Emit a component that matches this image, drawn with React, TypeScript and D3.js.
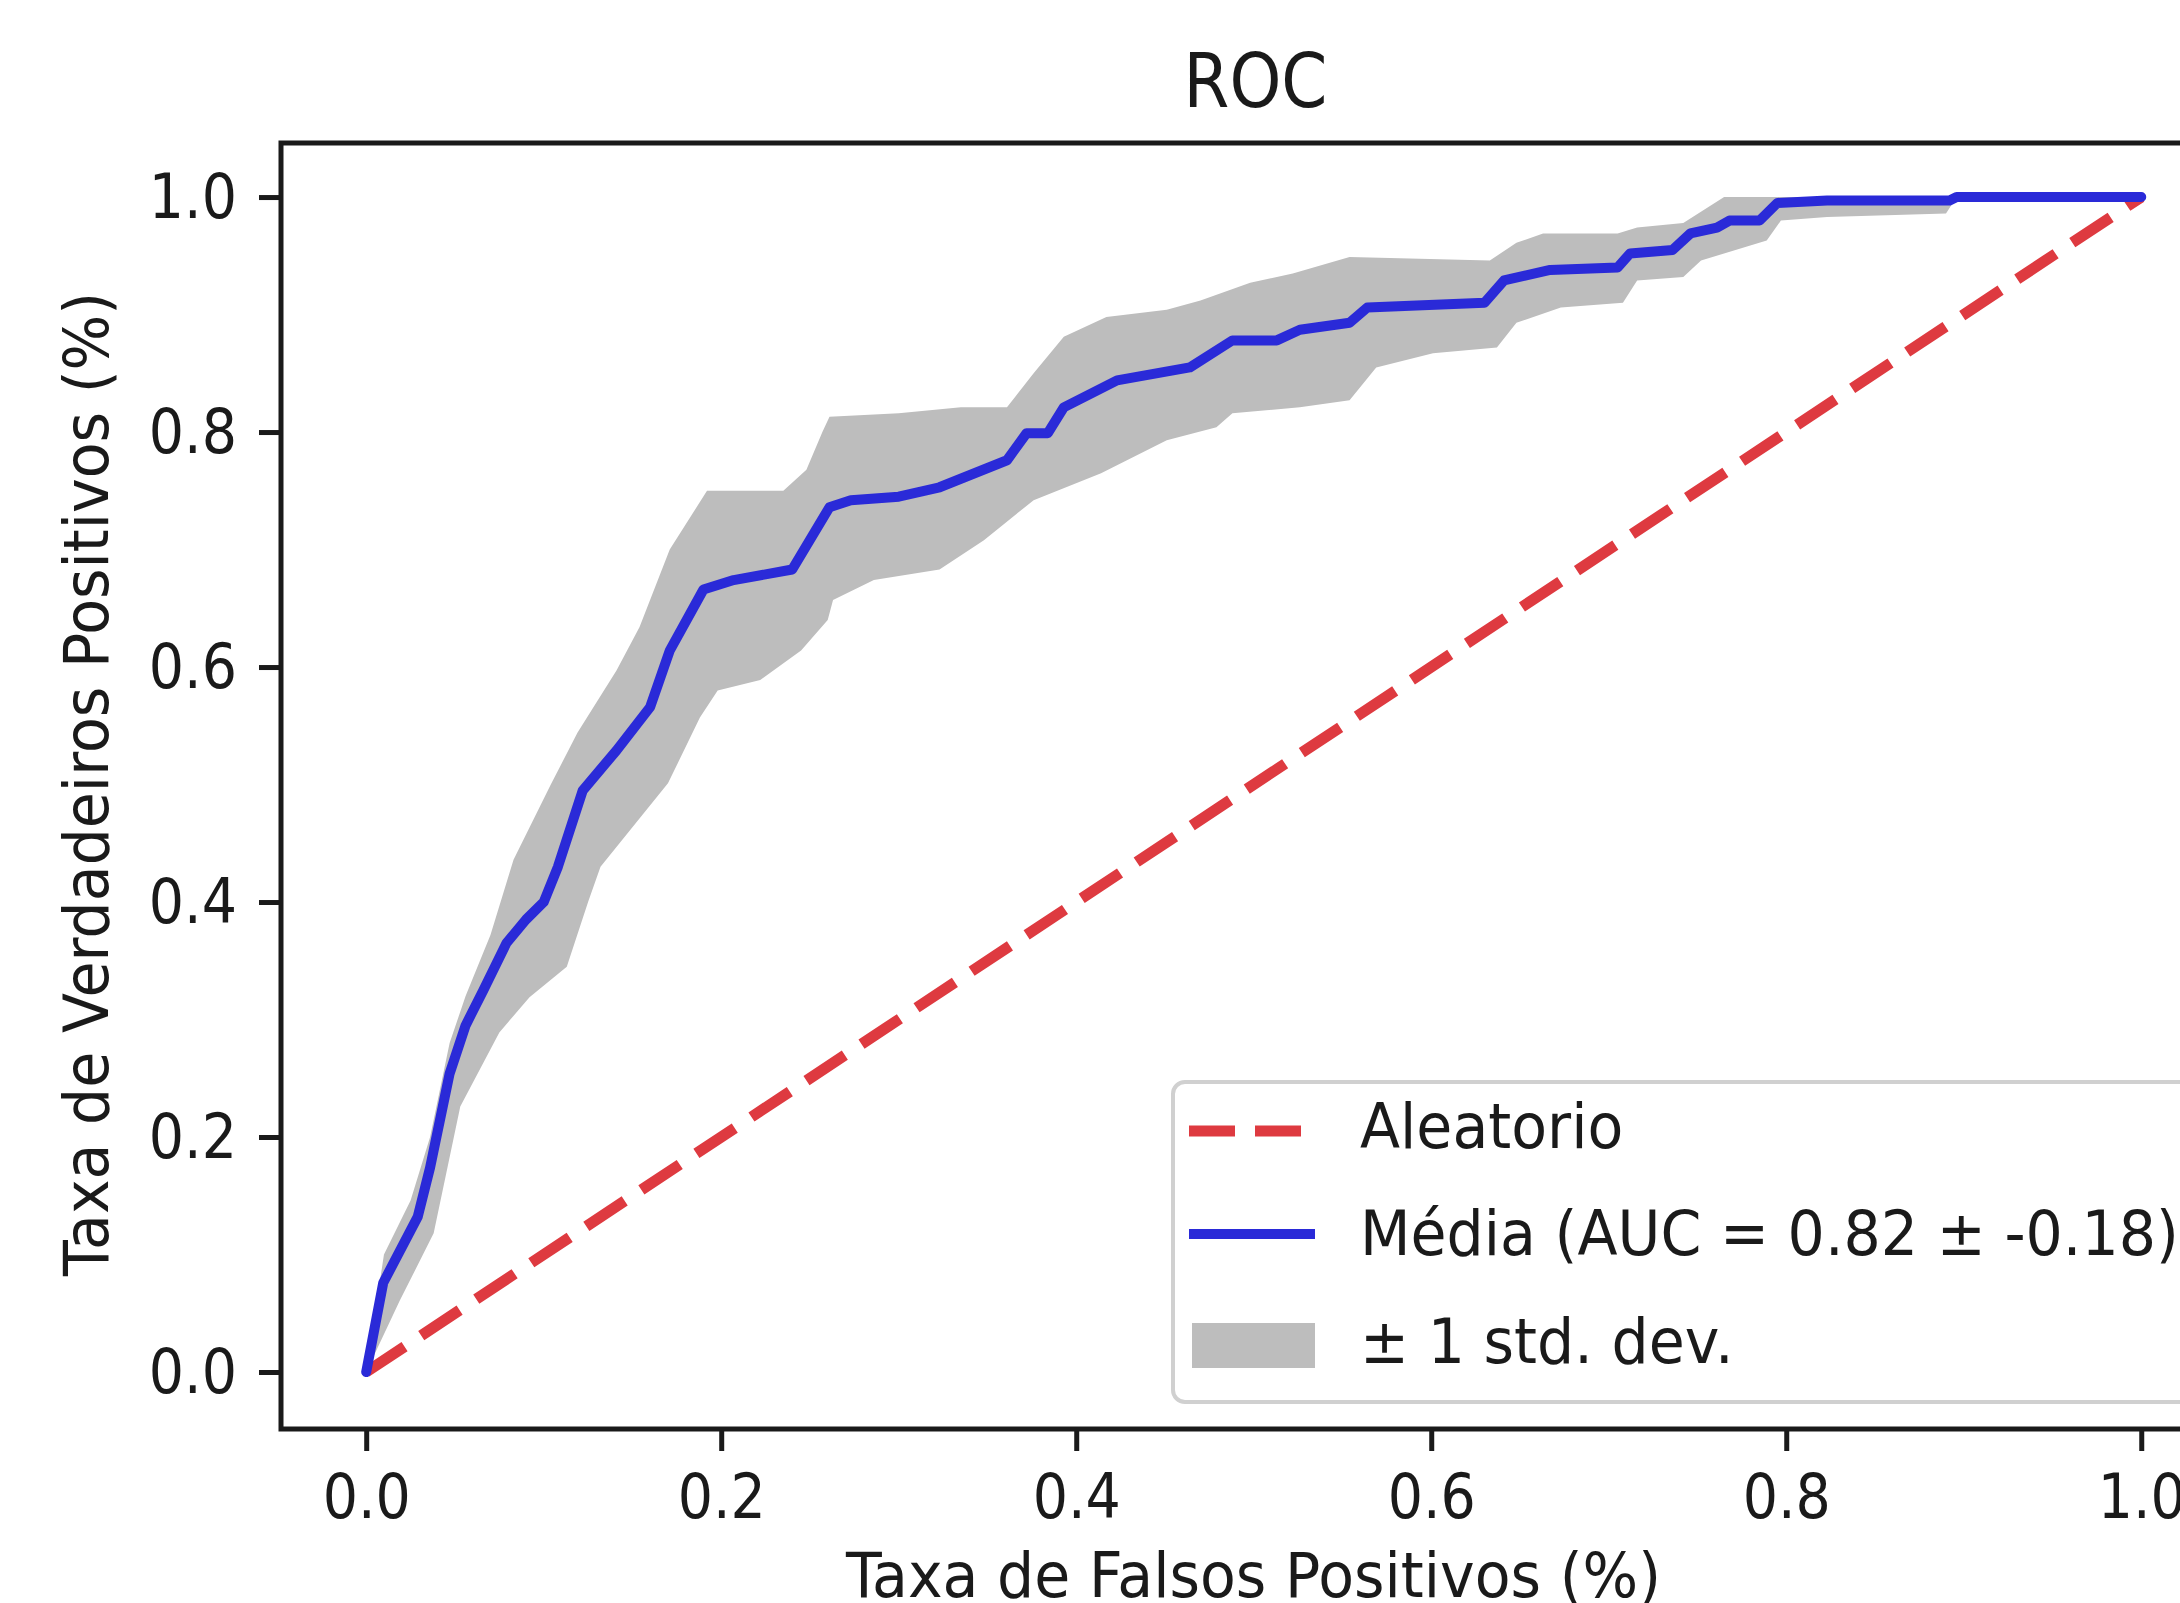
import * as d3 from "d3";
import { useEffect, useRef } from "react";

// mean ROC curve
const fprMean = [0, 0.0096, 0.029, 0.036, 0.047, 0.056, 0.066, 0.079, 0.09, 0.1, 0.108, 0.122, 0.141, 0.16, 0.171, 0.19, 0.207, 0.24, 0.261, 0.273, 0.3, 0.323, 0.361, 0.372, 0.384, 0.393, 0.423, 0.464, 0.488, 0.513, 0.526, 0.554, 0.564, 0.63, 0.641, 0.667, 0.705, 0.712, 0.736, 0.746, 0.761, 0.768, 0.785, 0.795, 0.823, 0.892, 0.896, 1.0];
const tprMean = [0, 0.076, 0.132, 0.174, 0.254, 0.295, 0.325, 0.365, 0.385, 0.4, 0.43, 0.495, 0.529, 0.566, 0.614, 0.666, 0.674, 0.683, 0.736, 0.742, 0.745, 0.753, 0.776, 0.799, 0.799, 0.821, 0.844, 0.855, 0.878, 0.878, 0.887, 0.893, 0.906, 0.91, 0.929, 0.938, 0.94, 0.952, 0.955, 0.969, 0.974, 0.98, 0.98, 0.995, 0.997, 0.997, 1.0, 1.0];

// +1 std edge
const fprUpper = [0, 0.01, 0.025, 0.036, 0.047, 0.056, 0.07, 0.083, 0.104, 0.119, 0.141, 0.154, 0.171, 0.192, 0.235, 0.248, 0.257, 0.261, 0.3, 0.335, 0.361, 0.376, 0.393, 0.417, 0.451, 0.47, 0.498, 0.522, 0.554, 0.633, 0.648, 0.663, 0.705, 0.716, 0.742, 0.765, 1.0];
const tprUpper = [0, 0.1, 0.146, 0.2, 0.28, 0.32, 0.372, 0.436, 0.5, 0.544, 0.597, 0.634, 0.7, 0.75, 0.75, 0.768, 0.8, 0.813, 0.816, 0.821, 0.821, 0.85, 0.881, 0.898, 0.904, 0.912, 0.927, 0.935, 0.949, 0.946, 0.961, 0.969, 0.969, 0.974, 0.978, 1.0, 1.0];

// -1 std edge
const fprLower = [0, 0.019, 0.038, 0.053, 0.075, 0.092, 0.113, 0.125, 0.132, 0.17, 0.188, 0.198, 0.222, 0.245, 0.26, 0.263, 0.286, 0.323, 0.348, 0.376, 0.414, 0.451, 0.479, 0.488, 0.526, 0.554, 0.569, 0.601, 0.637, 0.648, 0.673, 0.708, 0.716, 0.742, 0.752, 0.789, 0.797, 0.823, 0.89, 0.896, 1.0];
const tprLower = [0, 0.061, 0.118, 0.226, 0.289, 0.319, 0.345, 0.4, 0.43, 0.501, 0.557, 0.58, 0.589, 0.614, 0.64, 0.657, 0.674, 0.683, 0.708, 0.742, 0.765, 0.793, 0.804, 0.816, 0.821, 0.827, 0.855, 0.867, 0.872, 0.893, 0.906, 0.91, 0.929, 0.932, 0.946, 0.963, 0.98, 0.983, 0.986, 1.0, 1.0];

// chance diagonal
const fprChance = [0, 1];
const tprChance = [0, 1];

const xTicks = [0, 0.2, 0.4, 0.6, 0.8, 1.0];
const yTicks = [0, 0.2, 0.4, 0.6, 0.8, 1.0];

const legendLabels = ["Aleatorio", "Média (AUC = 0.82 ± -0.18)", "± 1 std. dev."];

function App() {
    const ref = useRef<SVGSVGElement>(null);

    useEffect(() => {
        const width = 2180,
            height = 1603;
        const font = "'DejaVu Sans', sans-serif";
        const fs = 63; // tick / label size
        const sx = 0.88; // tick glyphs in the picture are a bit narrow
        const sxLabel = 0.93; // axis labels and legend a little less so
        const ink = "#1a1a1a";

        const svg = d3.select(ref.current);
        svg.selectAll("*").remove();

        const left = 281,
            right = 2230,
            top = 143,
            bottom = 1429;

        const x = d3.scaleLinear().domain([-0.048, 1.05]).range([left, right]);
        const y = d3.scaleLinear().domain([-0.0485, 1.046]).range([bottom, top]);

        svg.append("rect").attr("width", width).attr("height", height).attr("fill", "white");

        // band: upper edge forward, lower edge back
        const bandPts: [number, number][] = [
            ...fprUpper.map((f, i) => [f, tprUpper[i]] as [number, number]),
            ...fprLower.map((f, i) => [f, tprLower[i]] as [number, number]).reverse(),
        ];
        const line = d3
            .line<[number, number]>()
            .x((d) => x(d[0]))
            .y((d) => y(d[1]));

        svg.append("path")
            .attr("d", line(bandPts) + "Z")
            .attr("fill", "#bdbdbd")
            .attr("stroke", "none");

        // chance line
        svg.append("path")
            .attr("d", line(fprChance.map((f, i) => [f, tprChance[i]])))
            .attr("fill", "none")
            .attr("stroke", "#de3a40")
            .attr("stroke-width", 11)
            .attr("stroke-dasharray", "46 20");

        // mean curve
        svg.append("path")
            .attr("d", line(fprMean.map((f, i) => [f, tprMean[i]])))
            .attr("fill", "none")
            .attr("stroke", "#2a2ad8")
            .attr("stroke-width", 10)
            .attr("stroke-linejoin", "round")
            .attr("stroke-linecap", "round");

        // axes
        const xAxis = svg
            .append("g")
            .attr("transform", `translate(0,${bottom})`)
            .call(
                d3.axisBottom(x).tickValues(xTicks).tickSize(22).tickPadding(22).tickSizeOuter(0).tickFormat(d3.format(".1f"))
            );
        const yAxis = svg
            .append("g")
            .attr("transform", `translate(${left},0)`)
            .call(
                d3.axisLeft(y).tickValues(yTicks).tickSize(22).tickPadding(22).tickSizeOuter(0).tickFormat(d3.format(".1f"))
            );

        [xAxis, yAxis].forEach((g) => {
            g.select(".domain").remove();
            g.selectAll(".tick line").attr("stroke", ink).attr("stroke-width", 5);
            g.selectAll(".tick text")
                .attr("fill", ink)
                .style("font-family", font)
                .style("font-size", `${fs}px`);
        });
        xAxis.selectAll(".tick text").attr("transform", `scale(${sx},1)`);
        yAxis.selectAll(".tick text").attr("x", -44 / sx).attr("transform", `scale(${sx},1)`);

        // frame
        svg.append("rect")
            .attr("x", left)
            .attr("y", top)
            .attr("width", right - left)
            .attr("height", bottom - top)
            .attr("fill", "none")
            .attr("stroke", ink)
            .attr("stroke-width", 5);

        const cx = (left + right) / 2;

        svg.append("text")
            .attr("transform", `translate(${cx},107) scale(${sx},1)`)
            .attr("text-anchor", "middle")
            .style("font-family", font)
            .style("font-size", "75px")
            .attr("fill", ink)
            .text("ROC");

        svg.append("text")
            .attr("transform", `translate(${cx - 2},1597) scale(${sxLabel},1)`)
            .attr("text-anchor", "middle")
            .style("font-family", font)
            .style("font-size", `${fs}px`)
            .attr("fill", ink)
            .text("Taxa de Falsos Positivos (%)");

        svg.append("text")
            .attr("transform", `translate(108,${(top + bottom) / 2 - 2}) rotate(-90) scale(${sxLabel},1)`)
            .attr("text-anchor", "middle")
            .style("font-family", font)
            .style("font-size", `${fs}px`)
            .attr("fill", ink)
            .text("Taxa de Verdadeiros Positivos (%)");

        // legend, lower right
        const lg = svg.append("g");
        lg.append("rect")
            .attr("x", 1173)
            .attr("y", 1082)
            .attr("width", 2203 - 1173)
            .attr("height", 1402 - 1082)
            .attr("rx", 12)
            .attr("fill", "white")
            .attr("fill-opacity", 0.8)
            .attr("stroke", "#d0d0d0")
            .attr("stroke-width", 4);

        const rowBase = [1148, 1255, 1363];
        const hx0 = 1189,
            hx1 = 1315;

        lg.append("line")
            .attr("x1", hx0).attr("x2", hx1)
            .attr("y1", rowBase[0] - 17).attr("y2", rowBase[0] - 17)
            .attr("stroke", "#de3a40")
            .attr("stroke-width", 11)
            .attr("stroke-dasharray", "46 20");
        lg.append("line")
            .attr("x1", hx0).attr("x2", hx1)
            .attr("y1", rowBase[1] - 21).attr("y2", rowBase[1] - 21)
            .attr("stroke", "#2a2ad8")
            .attr("stroke-width", 10);
        lg.append("rect")
            .attr("x", hx0 + 3)
            .attr("y", rowBase[2] - 40)
            .attr("width", hx1 - hx0 - 3)
            .attr("height", 45)
            .attr("fill", "#bdbdbd");

        legendLabels.forEach((label, i) => {
            lg.append("text")
                .attr("transform", `translate(1360,${rowBase[i]}) scale(${sxLabel},1)`)
                .style("font-family", font)
                .style("font-size", `${fs}px`)
                .attr("fill", ink)
                .text(label);
        });
    }, []);

    return (
        <svg
            ref={ref}
            width={2180}
            height={1603}
            style={{ position: "absolute", left: 0, top: 0, display: "block" }}
        />
    );
}

export default App;
